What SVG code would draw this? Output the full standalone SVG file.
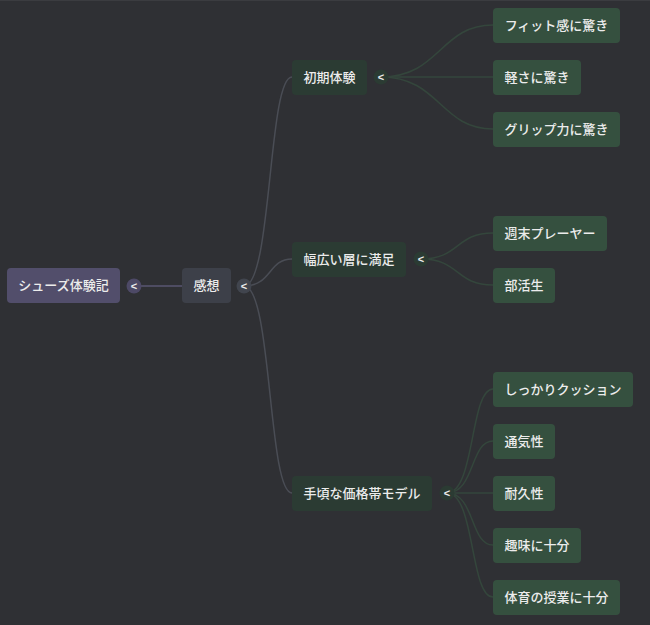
<svg xmlns="http://www.w3.org/2000/svg" width="650" height="625" viewBox="0 0 650 625">
<style>
text{font-family:"Noto Sans CJK JP","Noto Sans",sans-serif;font-size:13px;font-weight:500;fill:#ececec;text-anchor:middle;dominant-baseline:central}
.root rect{fill:#524e6b}
.l1 rect{fill:#3d4049}
.l2 rect{fill:#2b3b33}
.leaf rect{fill:#35503f}
.tg circle{stroke:none}
.tg text{font-size:11px;font-weight:bold;font-family:"Liberation Sans",sans-serif}
.c0{stroke:#5a5672;stroke-width:1.5;fill:none}
.c1{stroke:#4a4d55;stroke-width:1.5;fill:none}
.c2{stroke:#34463c;stroke-width:1.5;fill:none}
</style>
<rect x="0" y="0" width="650" height="625" fill="#2f3034"/>
<line x1="0" y1="0.5" x2="650" y2="0.5" stroke="#3b3c40"/>
<g id="connectors">
<line class="c0" x1="134" y1="286" x2="182" y2="286"/>
<path class="c1" d="M244,286 C272,286 268,77 292,77"/>
<path class="c1" d="M244,286 C272,286 268,259 292,259"/>
<path class="c1" d="M244,286 C272,286 268,493 292,493"/>
<path class="c2" d="M381,77 C440,77 440,25 493,25"/>
<path class="c2" d="M381,77 L493,77"/>
<path class="c2" d="M381,77 C440,77 440,129 493,129"/>
<path class="c2" d="M421,259 C460,259 455,233 493,233"/>
<path class="c2" d="M421,259 C460,259 455,285 493,285"/>
<path class="c2" d="M447,493 C475,493 470,389 493,389"/>
<path class="c2" d="M447,493 C475,493 470,441 493,441"/>
<path class="c2" d="M447,493 L493,493"/>
<path class="c2" d="M447,493 C475,493 470,545 493,545"/>
<path class="c2" d="M447,493 C475,493 470,597 493,597"/>
</g>
<g id="n-root" class="root"><rect x="7" y="268" width="113" height="35" rx="4"/><text x="63.5" y="284.5">シューズ体験記</text></g>
<g id="t-root" class="tg"><circle cx="134" cy="286" r="7.5" fill="#4d4966"/><text x="134" y="286">&lt;</text></g>
<g id="n-kanso" class="l1"><rect x="182" y="268" width="49" height="35" rx="4"/><text x="206.5" y="284.5">感想</text></g>
<g id="t-kanso" class="tg"><circle cx="244" cy="286" r="7.5" fill="#41454e"/><text x="244" y="286">&lt;</text></g>
<g id="n-shoki" class="l2"><rect x="292" y="60" width="75" height="35" rx="4"/><text x="329.5" y="76.5">初期体験</text></g>
<g id="t-shoki" class="tg"><circle cx="381" cy="77" r="7.5" fill="#2b3b33"/><text x="381" y="77">&lt;</text></g>
<g id="n-haba" class="l2"><rect x="292" y="242" width="114" height="35" rx="4"/><text x="349" y="258.5">幅広い層に満足</text></g>
<g id="t-haba" class="tg"><circle cx="421" cy="259" r="7.5" fill="#2b3b33"/><text x="421" y="259">&lt;</text></g>
<g id="n-tegoro" class="l2"><rect x="292" y="476" width="140" height="35" rx="4"/><text x="362" y="492.5">手頃な価格帯モデル</text></g>
<g id="t-tegoro" class="tg"><circle cx="447" cy="493" r="7.5" fill="#2b3b33"/><text x="447" y="493">&lt;</text></g>
<g id="n-fit" class="leaf"><rect x="493" y="8" width="127" height="35" rx="4"/><text x="556.5" y="24.5">フィット感に驚き</text></g>
<g id="n-karusa" class="leaf"><rect x="493" y="60" width="88" height="35" rx="4"/><text x="537" y="76.5">軽さに驚き</text></g>
<g id="n-grip" class="leaf"><rect x="493" y="112" width="127" height="35" rx="4"/><text x="556.5" y="128.5">グリップ力に驚き</text></g>
<g id="n-shumatsu" class="leaf"><rect x="493" y="216" width="114" height="35" rx="4"/><text x="550" y="232.5">週末プレーヤー</text></g>
<g id="n-bukatsu" class="leaf"><rect x="493" y="268" width="62" height="35" rx="4"/><text x="524" y="284.5">部活生</text></g>
<g id="n-cushion" class="leaf"><rect x="493" y="372" width="140" height="35" rx="4"/><text x="563" y="388.5">しっかりクッション</text></g>
<g id="n-tsuki" class="leaf"><rect x="493" y="424" width="62" height="35" rx="4"/><text x="524" y="440.5">通気性</text></g>
<g id="n-taikyu" class="leaf"><rect x="493" y="476" width="62" height="35" rx="4"/><text x="524" y="492.5">耐久性</text></g>
<g id="n-shumi" class="leaf"><rect x="493" y="528" width="88" height="35" rx="4"/><text x="537" y="544.5">趣味に十分</text></g>
<g id="n-taiiku" class="leaf"><rect x="493" y="580" width="127" height="35" rx="4"/><text x="556.5" y="596.5">体育の授業に十分</text></g>
</svg>
